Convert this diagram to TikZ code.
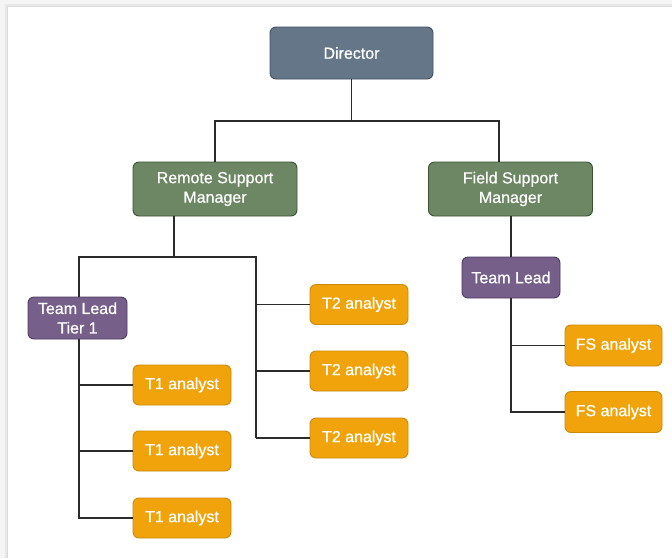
\documentclass[tikz,border=0pt]{standalone}
\usepackage{fontspec}
\setmainfont{Liberation Sans}
\newfontfamily\boxfont[FakeBold=0.7]{Liberation Sans}
\usepackage{xcolor}
\usepackage{tikz}
\usetikzlibrary{positioning, calc}

\definecolor{dirfill}{HTML}{647687}
\definecolor{dirline}{HTML}{3F5062}
\definecolor{mgrfill}{HTML}{6D8764}
\definecolor{mgrline}{HTML}{3A5431}
\definecolor{leadfill}{HTML}{76608A}
\definecolor{leadline}{HTML}{4F3B62}
\definecolor{anfill}{HTML}{F0A30A}
\definecolor{anline}{HTML}{C98A0A}
\definecolor{wire}{HTML}{2B2B2B}

\tikzset{
	box/.style={draw, rounded corners=6pt, text=white, align=center, inner sep=0pt, line width=0.9pt, font=\boxfont\fontsize{16}{19.5}\selectfont},
	dirbox/.style={box, fill=dirfill, draw=dirline, minimum width=163pt, minimum height=52pt},
	mgrbox/.style={box, fill=mgrfill, draw=mgrline, minimum width=164pt, minimum height=54pt},
	leadbox/.style={box, fill=leadfill, draw=leadline, minimum width=99pt, minimum height=42pt},
	anbox/.style={box, fill=anfill, draw=anline, minimum width=98pt, minimum height=40pt},
	wire/.style={draw=wire, line width=1.2pt}
}

\begin{document}
\begin{tikzpicture}[x=1pt, y=-1pt]
	\useasboundingbox (0,0) rectangle (672,558);
	% page and its shadow
	\fill[black!4] (0,0) rectangle (672,558);
	\fill[black!9] (5,4) rectangle (672,558);
	\fill[black!14] (7,6) rectangle (672,558);
	\fill[white] (8,7) rectangle (672,558);
	
	% boxes
	\node [dirbox] (dir) at (351.5,53) {Director};
	\node [mgrbox] (rsm) at (215,189) {Remote Support\\Manager};
	\node [mgrbox] (fsm) at (510.5,189) {Field Support\\Manager};
	\node [leadbox] (tl1) at (77.5,318) {Team Lead\\Tier 1};
	\node [leadbox, minimum width=98pt, minimum height=41pt] (tlf) at (511,277.5) {Team Lead};
	
	\node [anbox] (t1a) at (182,385) {T1 analyst};
	\node [anbox] (t1b) at (182,451) {T1 analyst};
	\node [anbox] (t1c) at (182,518) {T1 analyst};
	
	\node [anbox] (t2a) at (359,304.5) {T2 analyst};
	\node [anbox] (t2b) at (359,371) {T2 analyst};
	\node [anbox] (t2c) at (359,438) {T2 analyst};
	
	\node [anbox, minimum width=97pt, minimum height=41pt] (fsa) at (613.5,345.5) {FS analyst};
	\node [anbox, minimum width=97pt, minimum height=41pt] (fsb) at (613.5,412) {FS analyst};
	
	% junction points
	\coordinate (topR) at (499,121);
	\coordinate (rsmD) at (174,257);
	\coordinate (t2T) at (256,257);
	\coordinate (t1L) at (79,0);
	\coordinate (fsL) at (511,0);
	
	% director to managers
	\draw [wire] (dir.south) -- (dir.south |- topR);
	\draw [wire] (rsm.north) |- (topR) -- (topR |- fsm.north);
	
	% remote support branch
	\draw [wire] (rsmD |- rsm.south) -- (rsmD);
	\draw [wire] (t1L |- tl1.north) |- (t2T) -- (t2T |- t2c);
	\draw [wire] (t2T |- t2a) -- (t2a.west);
	\draw [wire] (t2T |- t2b) -- (t2b.west);
	\draw [wire] (t2T |- t2c) -- (t2c.west);
	
	\draw [wire] (t1L |- tl1.south) |- (t1c.west);
	\draw [wire] (t1L |- t1a) -- (t1a.west);
	\draw [wire] (t1L |- t1b) -- (t1b.west);
	
	% field support branch
	\draw [wire] (fsL |- fsm.south) -- (fsL |- tlf.north);
	\draw [wire] (fsL |- tlf.south) |- (fsb.west);
	\draw [wire] (fsL |- fsa) -- (fsa.west);
\end{tikzpicture}
\end{document}
